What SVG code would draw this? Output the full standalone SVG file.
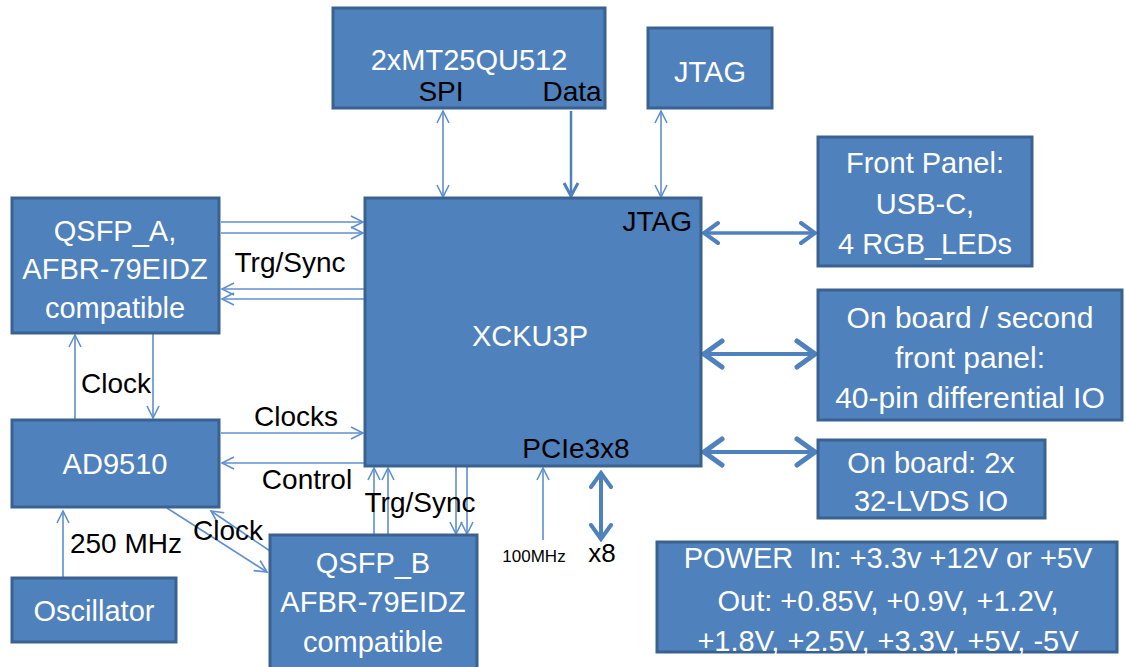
<svg xmlns="http://www.w3.org/2000/svg" width="1126" height="667" viewBox="0 0 1126 667">
<style>
.box{fill:#4f81bd;stroke:#3a6290;stroke-width:3}
.wt{font-family:"Liberation Sans",Arial,sans-serif;font-size:29px;fill:#ffffff;text-anchor:middle;white-space:pre}
.bt{font-family:"Liberation Sans",Arial,sans-serif;font-size:28px;fill:#000000;text-anchor:middle}
.thin{stroke:#5f8fcf;stroke-width:1.6;fill:none}
.thick{stroke:#4f81bd;stroke-width:4;fill:none}
</style>
<defs>
<marker id="ta" viewBox="-14 -8 16 16" markerWidth="16" markerHeight="16" refX="0" refY="0" orient="auto-start-reverse" markerUnits="userSpaceOnUse">
<path d="M-12,-6 L0,0 L-12,6" fill="none" stroke="#5f8fcf" stroke-width="1.6"/>
</marker>
<marker id="da" viewBox="-16 -10 18 20" markerWidth="18" markerHeight="20" refX="0" refY="0" orient="auto-start-reverse" markerUnits="userSpaceOnUse">
<path d="M-13,-7 L0,0 L-13,7" fill="none" stroke="#4f81bd" stroke-width="3"/>
</marker>
<marker id="ka" viewBox="-20 -14 22 28" markerWidth="22" markerHeight="28" refX="0" refY="0" orient="auto-start-reverse" markerUnits="userSpaceOnUse">
<path d="M-15,-10 L-1,0 L-15,10" fill="none" stroke="#4f81bd" stroke-width="4" stroke-linecap="round"/>
</marker>
<marker id="kb" viewBox="-24 -16 26 32" markerWidth="26" markerHeight="32" refX="0" refY="0" orient="auto-start-reverse" markerUnits="userSpaceOnUse">
<path d="M-19,-13 L-1,0 L-19,13" fill="none" stroke="#4f81bd" stroke-width="5" stroke-linecap="round"/>
</marker>
</defs>
<rect width="1126" height="667" fill="#ffffff"/>

<g id="connectors">
<line class="thin" x1="443" y1="111" x2="443" y2="197" marker-start="url(#ta)" marker-end="url(#ta)"/>
<line x1="571" y1="111" x2="571" y2="196" stroke="#4f81bd" stroke-width="2.5" marker-end="url(#da)"/>
<line class="thin" x1="661" y1="111" x2="661" y2="197" marker-start="url(#ta)" marker-end="url(#ta)"/>
<line class="thin" x1="221" y1="222" x2="363" y2="222" marker-end="url(#ta)"/>
<line class="thin" x1="221" y1="233" x2="363" y2="233" marker-end="url(#ta)"/>
<line class="thin" x1="364" y1="289" x2="222" y2="289" marker-end="url(#ta)"/>
<line class="thin" x1="364" y1="299" x2="222" y2="299" marker-end="url(#ta)"/>
<line class="thin" x1="75" y1="419" x2="75" y2="335" marker-end="url(#ta)"/>
<line class="thin" x1="153" y1="334" x2="153" y2="418" marker-end="url(#ta)"/>
<line class="thin" x1="221" y1="433" x2="363" y2="433" marker-end="url(#ta)"/>
<line class="thin" x1="364" y1="463" x2="222" y2="463" marker-end="url(#ta)"/>
<line class="thin" x1="374" y1="535" x2="374" y2="468" marker-end="url(#ta)"/>
<line class="thin" x1="388" y1="535" x2="388" y2="468" marker-end="url(#ta)"/>
<line class="thin" x1="456" y1="467" x2="456" y2="534" marker-end="url(#ta)"/>
<line class="thin" x1="467" y1="467" x2="467" y2="534" marker-end="url(#ta)"/>
<line class="thin" x1="167" y1="508" x2="267" y2="572" marker-end="url(#ta)"/>
<line class="thin" x1="270" y1="551" x2="211" y2="511" marker-end="url(#ta)"/>
<line class="thin" x1="63" y1="577" x2="63" y2="511" marker-end="url(#ta)"/>
<line class="thin" x1="543" y1="540" x2="543" y2="468" marker-end="url(#ta)"/>
<line class="thick" x1="601" y1="472" x2="601" y2="540" marker-start="url(#ka)" marker-end="url(#ka)"/>
<line x1="703" y1="233" x2="816" y2="233" stroke="#4f81bd" stroke-width="3.5" marker-start="url(#ka)" marker-end="url(#ka)"/>
<line class="thick" x1="703" y1="354" x2="816" y2="354" marker-start="url(#kb)" marker-end="url(#kb)"/>
<line class="thick" x1="703" y1="452" x2="816" y2="452" marker-start="url(#kb)" marker-end="url(#kb)"/>
</g>

<g id="labels">
<text class="bt" x="290" y="272">Trg/Sync</text>
<text class="bt" x="116" y="393">Clock</text>
<text class="bt" x="296" y="426">Clocks</text>
<text class="bt" x="307" y="489">Control</text>
<text class="bt" x="420" y="512">Trg/Sync</text>
<text class="bt" x="228" y="540">Clock</text>
<text class="bt" x="126" y="553">250 MHz</text>
<text x="534" y="562" font-family="Liberation Sans, Arial, sans-serif" font-size="17" fill="#000" text-anchor="middle">100MHz</text>
<text x="602" y="562" font-family="Liberation Sans, Arial, sans-serif" font-size="26" fill="#000" text-anchor="middle">x8</text>
</g>

<g id="flash">
<rect class="box" x="333" y="8" width="272" height="100"/>
<text class="wt" x="469" y="70">2xMT25QU512</text>
<text class="bt" x="441" y="101">SPI</text>
<text class="bt" x="572" y="101">Data</text>
</g>
<g id="jtag">
<rect class="box" x="648" y="28" width="124" height="80"/>
<text class="wt" x="710" y="82">JTAG</text>
</g>
<g id="qsfp_a">
<rect class="box" x="12" y="198" width="207" height="135"/>
<text class="wt" x="115" y="241">QSFP_A,</text>
<text class="wt" x="115" y="279">AFBR-79EIDZ</text>
<text class="wt" x="115" y="318">compatible</text>
</g>
<g id="xcku3p">
<rect class="box" x="365" y="198" width="336" height="268"/>
<text class="wt" x="530" y="346">XCKU3P</text>
<text class="bt" x="692" y="231" style="text-anchor:end">JTAG</text>
<text class="bt" x="576" y="458">PCIe3x8</text>
</g>
<g id="front_panel">
<rect class="box" x="818" y="137" width="214" height="129"/>
<text class="wt" x="925" y="173">Front Panel:</text>
<text class="wt" x="925" y="214">USB-C,</text>
<text class="wt" x="925" y="254">4 RGB_LEDs</text>
</g>
<g id="second_panel">
<rect class="box" x="818" y="290" width="304" height="130"/>
<text class="wt" x="970" y="328" style="font-size:30px">On board / second</text>
<text class="wt" x="970" y="368" style="font-size:30px">front panel:</text>
<text class="wt" x="970" y="408" style="font-size:30px">40-pin differential IO</text>
</g>
<g id="lvds">
<rect class="box" x="818" y="440" width="227" height="78"/>
<text class="wt" x="931" y="473">On board: 2x</text>
<text class="wt" x="931" y="511">32-LVDS IO</text>
</g>
<g id="ad9510">
<rect class="box" x="12" y="420" width="207" height="87"/>
<text class="wt" x="115" y="474">AD9510</text>
</g>
<g id="oscillator">
<rect class="box" x="12" y="578" width="164" height="64"/>
<text class="wt" x="94" y="621">Oscillator</text>
</g>
<g id="qsfp_b">
<rect class="box" x="270" y="535" width="207" height="140"/>
<text class="wt" x="373" y="573">QSFP_B</text>
<text class="wt" x="373" y="612">AFBR-79EIDZ</text>
<text class="wt" x="373" y="652">compatible</text>
</g>
<g id="power">
<rect class="box" x="657" y="542" width="460" height="110"/>
<text class="wt" x="888" y="568">POWER  In: +3.3v +12V or +5V</text>
<text class="wt" x="888" y="611">Out: +0.85V, +0.9V, +1.2V,</text>
<text class="wt" x="888" y="651">+1.8V, +2.5V, +3.3V, +5V, -5V</text>
</g>
</svg>
